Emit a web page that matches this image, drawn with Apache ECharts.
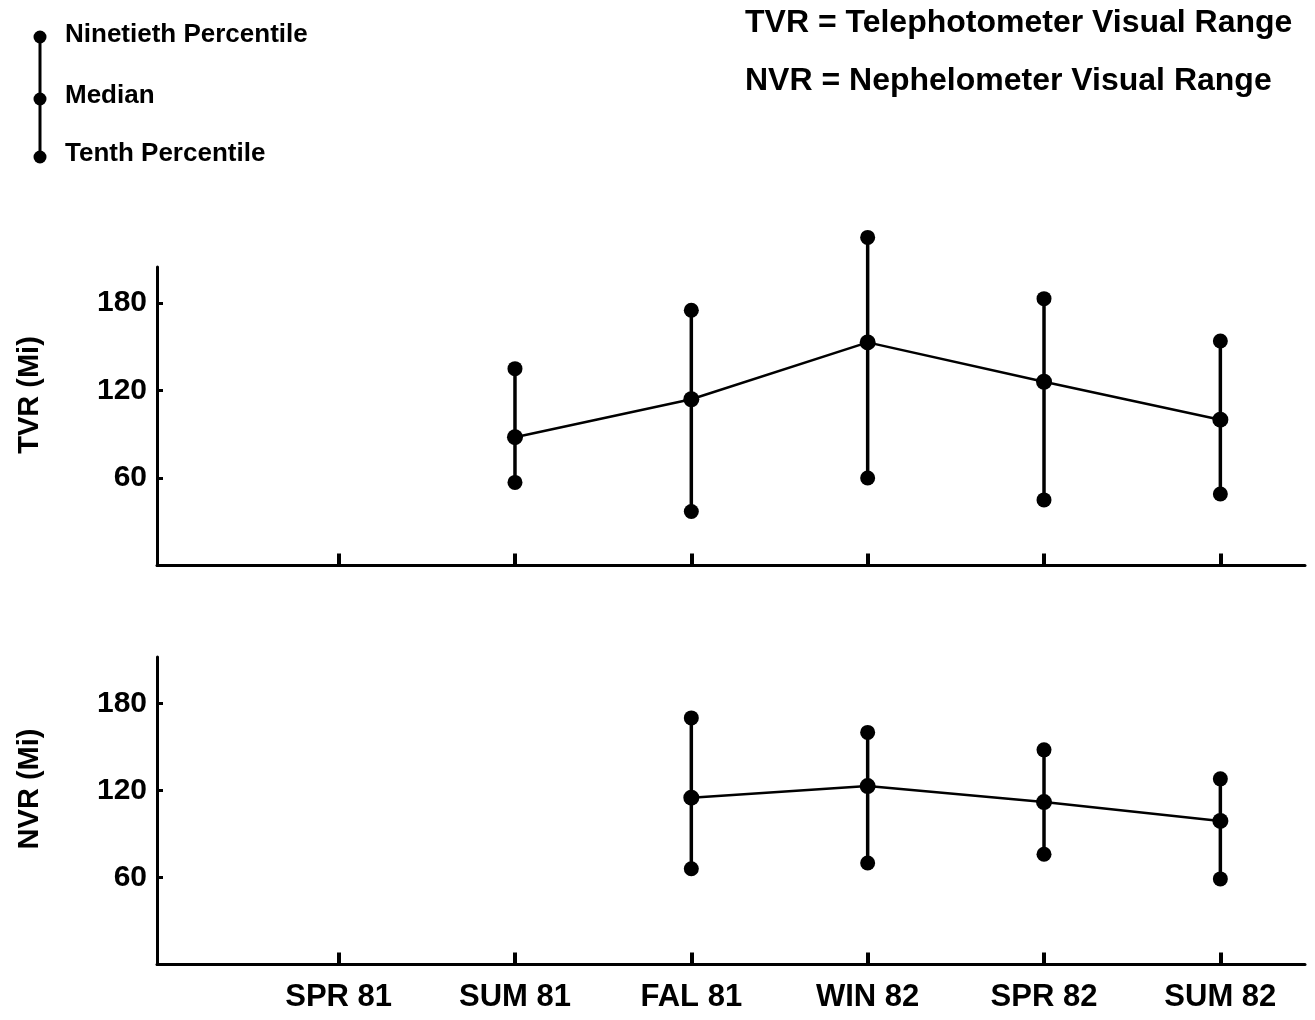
<!DOCTYPE html>
<html>
<head>
<meta charset="utf-8">
<script src="https://cdn.jsdelivr.net/npm/echarts@6/dist/echarts.min.js"></script>
<style>
html,body{margin:0;padding:0;background:#fff;}
#chart{width:1315px;height:1020px;}
</style>
</head>
<body>
<div id="chart"></div>
<script>
// ---- data ----
const categories = ['SPR 81', 'SUM 81', 'FAL 81', 'WIN 82', 'SPR 82', 'SUM 82'];
const yTicks = [60, 120, 180];

const tvrP90    = [null, 135, 175, 225, 183, 154];
const tvrMedian = [null,  88, 114, 153, 126, 100];
const tvrP10    = [null,  57,  37,  60,  45,  49];

const nvrP90    = [null, null, 170, 160, 148, 128];
const nvrMedian = [null, null, 115, 123, 112,  99];
const nvrP10    = [null, null,  66,  70,  76,  59];

const legendItems = ['Ninetieth Percentile', 'Median', 'Tenth Percentile'];
const notes = ['TVR = Telephotometer Visual Range', 'NVR = Nephelometer Visual Range'];
const axisTitles = ['TVR (Mi)', 'NVR (Mi)'];

// ---- build ----
const FONT = "'Liberation Sans', Arial, Helvetica, sans-serif";
const catPos = categories.map((c, i) => i + 1);

function medianData(arr) {
  return arr.map((v, i) => v == null ? null : [catPos[i], v]).filter(d => d);
}
function barData(lo, hi) {
  return lo.map((v, i) => v == null ? null : [catPos[i], v, hi[i]]).filter(d => d);
}
function renderBar(params, api) {
  const x = api.value(0);
  const a = api.coord([x, api.value(1)]);
  const b = api.coord([x, api.value(2)]);
  return {
    type: 'group',
    children: [
      { type: 'line', shape: { x1: a[0], y1: a[1], x2: b[0], y2: b[1] },
        style: { stroke: '#000', lineWidth: 3.5 } },
      { type: 'circle', shape: { cx: a[0], cy: a[1], r: 7.5 }, style: { fill: '#000' } },
      { type: 'circle', shape: { cx: b[0], cy: b[1], r: 7.5 }, style: { fill: '#000' } }
    ]
  };
}

function xAxis(gridIndex, showLabels) {
  return {
    type: 'value', gridIndex, min: -0.03, max: 6.48,
    splitLine: { show: false },
    axisLine: { show: true, onZero: false, lineStyle: { color: '#000', width: 3 } },
    axisTick: { show: true, inside: true, length: 12, customValues: catPos,
                lineStyle: { color: '#000', width: 4 } },
    axisLabel: { show: showLabels, customValues: catPos, margin: 17,
                 formatter: v => categories[Math.round(v) - 1] || '',
                 color: '#000', fontFamily: FONT, fontWeight: 'bold', fontSize: 31 }
  };
}
function yAxis(gridIndex, max) {
  return {
    type: 'value', gridIndex, min: 0, max,
    splitLine: { show: false },
    axisLine: { show: true, onZero: false, lineStyle: { color: '#000', width: 3 } },
    axisTick: { show: true, inside: true, length: 6, customValues: yTicks,
                lineStyle: { color: '#000', width: 3 } },
    axisLabel: { show: true, customValues: yTicks, margin: 10,
                 color: '#000', fontFamily: FONT, fontWeight: 'bold', fontSize: 30 }
  };
}

const textStyle = (size) => ({ fill: '#000', font: `bold ${size}px ${FONT}` });

const graphic = [
  // legend key
  { type: 'line', shape: { x1: 40, y1: 37, x2: 40, y2: 157 }, style: { stroke: '#000', lineWidth: 3 } },
  { type: 'circle', shape: { cx: 40, cy: 37, r: 6.5 }, style: { fill: '#000' } },
  { type: 'circle', shape: { cx: 40, cy: 99, r: 6.5 }, style: { fill: '#000' } },
  { type: 'circle', shape: { cx: 40, cy: 157, r: 6.5 }, style: { fill: '#000' } },
  { type: 'text', left: 65, top: 22, style: Object.assign({ text: legendItems[0] }, textStyle(26)) },
  { type: 'text', left: 65, top: 83, style: Object.assign({ text: legendItems[1] }, textStyle(26)) },
  { type: 'text', left: 65, top: 141, style: Object.assign({ text: legendItems[2] }, textStyle(26)) },
  // notes
  { type: 'text', left: 745, top: 7, style: Object.assign({ text: notes[0] }, textStyle(32)) },
  { type: 'text', left: 745, top: 65, style: Object.assign({ text: notes[1] }, textStyle(32)) },
  // axis titles
  { type: 'text', x: 30, y: 395, rotation: Math.PI / 2,
    style: Object.assign({ text: axisTitles[0], align: 'center', verticalAlign: 'middle' }, textStyle(29)) },
  { type: 'text', x: 30, y: 789, rotation: Math.PI / 2,
    style: Object.assign({ text: axisTitles[1], align: 'center', verticalAlign: 'middle' }, textStyle(29)) }
];

const option = {
  backgroundColor: '#fff',
  animation: false,
  grid: [
    { left: 157, width: 1148, top: 267, height: 298.5 },
    { left: 157, width: 1148, top: 657, height: 307.5 }
  ],
  xAxis: [xAxis(0, false), xAxis(1, true)],
  yAxis: [yAxis(0, 204.7), yAxis(1, 212)],
  graphic,
  series: [
    { type: 'custom', xAxisIndex: 0, yAxisIndex: 0, clip: false, renderItem: renderBar,
      data: barData(tvrP10, tvrP90), z: 3 },
    { type: 'line', xAxisIndex: 0, yAxisIndex: 0, clip: false, data: medianData(tvrMedian),
      symbol: 'circle', symbolSize: 16, lineStyle: { color: '#000', width: 2.5 },
      itemStyle: { color: '#000' }, z: 4 },
    { type: 'custom', xAxisIndex: 1, yAxisIndex: 1, clip: false, renderItem: renderBar,
      data: barData(nvrP10, nvrP90), z: 3 },
    { type: 'line', xAxisIndex: 1, yAxisIndex: 1, clip: false, data: medianData(nvrMedian),
      symbol: 'circle', symbolSize: 16, lineStyle: { color: '#000', width: 2.5 },
      itemStyle: { color: '#000' }, z: 4 }
  ]
};

const chart = echarts.init(document.getElementById('chart'), null, { renderer: 'canvas' });
chart.setOption(option);
</script>
</body>
</html>
